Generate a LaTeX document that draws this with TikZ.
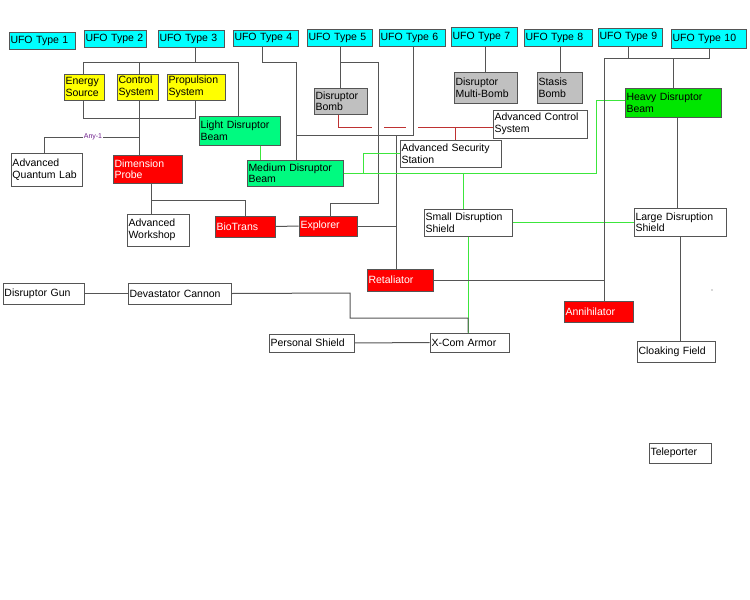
\documentclass[tikz,border=0pt]{standalone}
\usepackage{fontspec}
\setmainfont{Liberation Sans}
\definecolor{cCyan}{RGB}{0,255,255}
\definecolor{cYel}{RGB}{255,255,0}
\definecolor{cMint}{RGB}{0,250,128}
\definecolor{cHvy}{RGB}{0,230,0}
\definecolor{cGry}{RGB}{192,192,192}
\definecolor{cRed}{RGB}{255,0,0}
\definecolor{cLine}{RGB}{85,85,85}
\definecolor{cGl}{RGB}{60,230,60}
\definecolor{cRl}{RGB}{190,50,50}
\definecolor{cAny}{RGB}{110,30,140}
\begin{document}
\begin{tikzpicture}[x=1pt,y=-1pt,
  box/.style={draw=cLine,line width=1pt,inner sep=1pt,align=left,font=\fontsize{10.5}{11.5}\selectfont,anchor=center},
  ufo/.style={fill=cCyan},
  yel/.style={fill=cYel},
  mint/.style={fill=cMint},
  hvy/.style={fill=cHvy},
  gry/.style={fill=cGry},
  redbox/.style={fill=cRed,text=white},
  wht/.style={fill=white},
  ln/.style={draw=cLine,line width=1pt},
  gl/.style={draw=cGl,line width=1pt},
  rl/.style={draw=cRl,line width=1pt}]
\useasboundingbox (0,0) rectangle (750,600);
\newcommand\bx[7]{\pgfmathsetmacro\bw{#4-#2}\pgfmathsetmacro\bh{#5-#3}\pgfmathsetmacro\tw{#4-#2-3}%
 \node[box,#6,minimum width=\bw pt,minimum height=\bh pt,text width=\tw pt] (#1) at ({(#2+#4)/2},{(#3+#5)/2}) {#7};}
\bx{u1}{9}{32}{75}{49}{ufo}{UFO Type 1}
\bx{u2}{84}{30}{146}{47}{ufo}{UFO Type 2}
\bx{u3}{158}{30}{224}{47}{ufo}{UFO Type 3}
\bx{u4}{233}{30}{298}{46}{ufo}{UFO Type 4}
\bx{u5}{307}{29}{372}{46}{ufo}{UFO Type 5}
\bx{u6}{379}{29}{445}{46}{ufo}{UFO Type 6}
\bx{u7}{451}{27}{517}{46}{ufo}{UFO Type 7}
\bx{u8}{524}{29}{592}{46}{ufo}{UFO Type 8}
\bx{u9}{598}{28}{662}{46}{ufo}{UFO Type 9}
\bx{u10}{671}{29}{746}{48}{ufo}{UFO Type 10}
\bx{es}{64}{74}{104}{100}{yel}{Energy\\Source}
\bx{cs}{117}{74}{158}{100}{yel}{Control\\System}
\bx{ps}{167}{74}{225}{100}{yel}{Propulsion\\System}
\bx{ldb}{199}{116}{280}{145}{mint}{Light Disruptor\\Beam}
\bx{mdb}{247}{160}{343}{186}{mint}{Medium Disruptor\\Beam}
\bx{db}{314}{88}{367}{114}{gry}{Disruptor\\Bomb}
\bx{dmb}{454}{72}{517}{103}{gry}{Disruptor\\Multi-Bomb}
\bx{sb}{537}{72}{582}{103}{gry}{Stasis\\Bomb}
\bx{hdb}{625}{88}{721}{117}{hvy}{Heavy Disruptor\\Beam}
\bx{acs}{493}{110}{587}{138}{wht}{Advanced Control\\System}
\bx{ass}{400}{140}{501}{167}{wht}{Advanced Security\\Station}
\bx{aql}{11}{153}{82}{186}{wht}{Advanced\\Quantum Lab}
\bx{dp}{113}{155}{182}{183}{redbox}{Dimension\\Probe}
\bx{aw}{127}{214}{189}{246}{wht}{Advanced\\Workshop}
\bx{bt}{215}{216}{275}{237}{redbox}{BioTrans}
\bx{ex}{299}{216}{357}{236}{redbox}{Explorer}
\bx{sds}{424}{209}{512}{236}{wht}{Small Disruption\\Shield}
\bx{lds}{634}{208}{726}{236}{wht}{Large Disruption\\Shield}
\bx{ret}{367}{269}{433}{291}{redbox}{Retaliator}
\bx{ann}{564}{301}{633}{322}{redbox}{Annihilator}
\bx{dg}{3}{283}{84}{304}{wht}{Disruptor Gun}
\bx{dc}{128}{283}{231}{304}{wht}{Devastator Cannon}
\bx{psh}{269}{334}{354}{352}{wht}{Personal Shield}
\bx{xa}{430}{333}{509}{352}{wht}{X-Com Armor}
\bx{cf}{637}{341}{715}{362}{wht}{Cloaking Field}
\bx{tp}{649}{443}{711}{463}{wht}{Teleporter}
\fill[cLine] (712,290) circle (0.6);
% UFO3 tree
\draw[ln] (u3.south -| 195,0) -- (195,62);
\draw[ln] (es.north -| 83,0) |- (238,62) -- (ldb.north -| 238,0);
\draw[ln] (cs.north -| 139,0) -- (139,62);
\draw[ln] (es.south -| 83,0) |- (195,118) -- (ps.south -| 195,0);
\draw[ln] (139,100) -- (dp.north -| 139,0);
\draw[ln] (139,137) -| (aql.north -| 44,0);
\node[fill=white,inner sep=0.5pt,font=\fontsize{7}{8}\selectfont,text=cAny] (any) at (93,137) {Any-1};
\draw[ln] (dp.south -| 151,0) |- (245,200) -- (bt.north -| 245,0);
\draw[ln] (151,200) -- (aw.north -| 151,0);
\draw[ln] (bt) -- (ex);
% UFO4/6
\draw[ln] (u4.south -| 262,0) |- (296,62) -- (mdb.north -| 296,0);
\draw[ln] (296,135) -- (413,135) -- (u6.south -| 413,0);
\draw[ln] (396,135) -- (ret.north -| 396,0);
\draw[ln] (ex.east) -- (396,226);
% UFO5
\draw[ln] (u5.south -| 340,0) -- (db.north -| 340,0);
\draw[ln] (340,62) -| (378,203) -| (ex.north -| 330,0);
% red dashed
\draw[rl] (db.south -| 338,0) |- (372,127);
\draw[rl] (384,127) -- (406,127);
\draw[rl] (418,127) -- (acs.west |- 0,127);
\draw[rl] (455,127) -- (ass.north -| 455,0);
% green
\draw[gl] (ldb.south -| 260,0) -- (mdb.north -| 260,0);
\draw[gl] (mdb.east |- 0,173) -- (596,173) |- (hdb.west |- 0,100);
\draw[gl] (363,173) |- (ass.west |- 0,153);
\draw[gl] (463,173) -- (sds.north -| 463,0);
\draw[gl] (sds.south -| 468,0) -- (xa.north -| 468,0);
\draw[gl] (sds.east |- 0,222) -- (lds.west |- 0,222);
% UFO7-10
\draw[ln] (u7.south -| 485,0) -- (dmb.north -| 485,0);
\draw[ln] (u8.south -| 560,0) -- (sb.north -| 560,0);
\draw[ln] (u9.south -| 628,0) |- (709,58) -- (u10.south -| 709,0);
\draw[ln] (673,58) -- (hdb.north -| 673,0);
\draw[ln] (628,58) -| (ann.north -| 604,0);
\draw[ln] (ret.east) -- (604,280);
\draw[ln] (hdb.south -| 677,0) -- (lds.north -| 677,0);
\draw[ln] (lds.south -| 680,0) -- (cf.north -| 680,0);
% bottom
\draw[ln] (dg) -- (dc);
\draw[ln] (dc.east) -- (350,293) |- (468,318) -- (xa.north -| 468,0);
\draw[ln] (psh) -- (xa);
\end{tikzpicture}
\end{document}
